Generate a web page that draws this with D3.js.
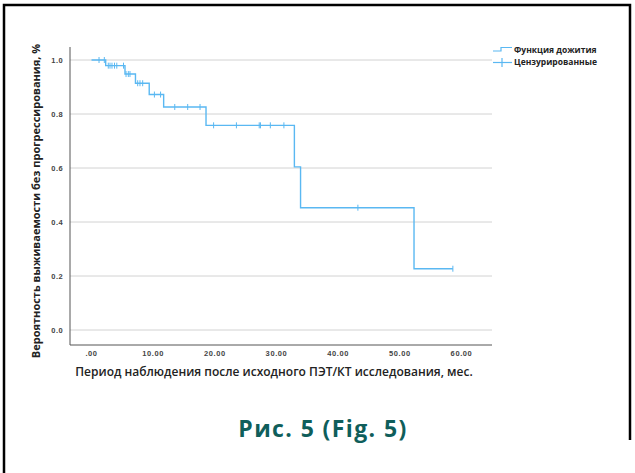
<!DOCTYPE html>
<html>
<head>
<meta charset="utf-8">
<script src="https://cdn.jsdelivr.net/npm/d3@7"></script>
<style>
  html, body { margin: 0; padding: 0; background: #fff; }
  svg { display: block; }
</style>
</head>
<body>
<div id="chart"></div>
<script>
// Kaplan-Meier steps: time (months) where survival drops, and new value
const stepTimes = [0, 2.3, 5.43, 7.13, 9.36, 11.7, 18.57, 32.9, 33.9, 52.3];
const stepValues = [1.0, 0.979, 0.948, 0.914, 0.872, 0.826, 0.758, 0.604, 0.453, 0.227];
const endTime = 58.6;
// censored observations
const censorTimes = [1.22, 2.08, 2.72, 3.0, 3.32, 3.73, 4.1, 5.19, 5.6, 5.97, 6.24,
  7.49, 7.86, 8.3, 10.2, 11.2, 13.5, 15.6, 17.6, 19.8, 23.5, 27.2, 27.4, 29.0, 31.2, 43.2, 58.6];
const xTicks = [0, 10, 20, 30, 40, 50, 60];
const yTicks = [0, 0.2, 0.4, 0.6, 0.8, 1.0];
const legendLabels = ["Функция дожития", "Цензурированные"];

const W = 635, H = 473;
const lineColor = "#5ab8f2";

const svg = d3.select("#chart").append("svg")
  .attr("width", W).attr("height", H);

// frame
svg.append("path")
  .attr("d", "M4,473 V5 H630 V440")
  .attr("fill", "none")
  .attr("stroke", "#000")
  .attr("stroke-width", 2.5);

const x = d3.scaleLinear().domain([0, 60]).range([91.5, 461.5]);
const y = d3.scaleLinear().domain([0, 1]).range([330, 60]);
const plotLeft = 70, plotRight = 492, plotTop = 47, plotBottom = 345;

// gridlines
svg.append("g")
  .selectAll("line")
  .data(yTicks)
  .enter()
  .append("line")
  .attr("x1", plotLeft).attr("x2", plotRight)
  .attr("y1", d => y(d)).attr("y2", d => y(d))
  .attr("stroke", "#d2d2d2")
  .attr("stroke-width", 1);

// axes lines
svg.append("line")
  .attr("x1", plotLeft).attr("x2", plotLeft)
  .attr("y1", plotTop).attr("y2", plotBottom)
  .attr("stroke", "#555").attr("stroke-width", 1);
svg.append("line")
  .attr("x1", plotLeft).attr("x2", plotRight)
  .attr("y1", plotBottom).attr("y2", plotBottom)
  .attr("stroke", "#555").attr("stroke-width", 1);

// tick labels
svg.append("g")
  .selectAll("text")
  .data(yTicks)
  .enter()
  .append("text")
  .attr("x", 63)
  .attr("y", d => y(d) + 2.5)
  .attr("text-anchor", "end")
  .attr("font-family", "Liberation Sans, Arial, sans-serif")
  .attr("font-weight", "bold")
  .attr("font-size", 7.5)
  .attr("letter-spacing", 0.4)
  .attr("fill", "#444")
  .text(d => d.toFixed(1));

svg.append("g")
  .selectAll("text")
  .data(xTicks)
  .enter()
  .append("text")
  .attr("x", d => x(d))
  .attr("y", 356)
  .attr("text-anchor", "middle")
  .attr("font-family", "Liberation Sans, Arial, sans-serif")
  .attr("font-weight", "bold")
  .attr("font-size", 7.5)
  .attr("letter-spacing", 0.6)
  .attr("fill", "#444")
  .text(d => d === 0 ? ".00" : d.toFixed(2));

// axis titles
svg.append("text")
  .attr("x", 274)
  .attr("y", 376)
  .attr("text-anchor", "middle")
  .attr("font-family", "Open Sans, sans-serif")
  .attr("font-weight", 600)
  .attr("font-size", 12)
  .attr("fill", "#222")
  .text("Период наблюдения после исходного ПЭТ/КТ исследования, мес.");

svg.append("text")
  .attr("transform", "translate(40,201) rotate(-90)")
  .attr("text-anchor", "middle")
  .attr("font-family", "Open Sans, sans-serif")
  .attr("font-weight", 700)
  .attr("font-size", 11)
  .attr("fill", "#222")
  .text("Вероятность выживаемости без прогрессирования, %");

// survival step line
const pts = stepTimes.map((t, i) => [t, stepValues[i]]);
pts.push([endTime, stepValues[stepValues.length - 1]]);
const line = d3.line()
  .x(d => x(d[0]))
  .y(d => y(d[1]))
  .curve(d3.curveStepAfter);
svg.append("path")
  .datum(pts)
  .attr("d", line)
  .attr("fill", "none")
  .attr("stroke", lineColor)
  .attr("stroke-width", 1.4);

// survival value at time t
function survAt(t) {
  let s = stepValues[0];
  for (let i = 0; i < stepTimes.length; i++) {
    if (stepTimes[i] <= t) s = stepValues[i];
  }
  return s;
}

svg.append("g")
  .selectAll("line")
  .data(censorTimes)
  .enter()
  .append("line")
  .attr("x1", d => x(d)).attr("x2", d => x(d))
  .attr("y1", d => y(survAt(d)) - 3).attr("y2", d => y(survAt(d)) + 3)
  .attr("stroke", lineColor)
  .attr("stroke-width", 1);

// legend
const lg = svg.append("g");
lg.append("path")
  .attr("d", "M493,51 H501 V47.5 H512")
  .attr("fill", "none")
  .attr("stroke", lineColor)
  .attr("stroke-width", 1.2);
lg.append("line")
  .attr("x1", 493).attr("x2", 512).attr("y1", 62.5).attr("y2", 62.5)
  .attr("stroke", lineColor).attr("stroke-width", 1.2);
lg.append("line")
  .attr("x1", 502).attr("x2", 502).attr("y1", 58).attr("y2", 67)
  .attr("stroke", lineColor).attr("stroke-width", 1.2);
lg.selectAll("text")
  .data(legendLabels)
  .enter()
  .append("text")
  .attr("x", 514)
  .attr("y", (d, i) => 52.5 + i * 12.5)
  .attr("font-family", "Open Sans, sans-serif")
  .attr("font-weight", 700)
  .attr("font-size", 8.5)
  .attr("fill", "#222")
  .text(d => d);

// caption
svg.append("text")
  .attr("x", 323)
  .attr("y", 437)
  .attr("text-anchor", "middle")
  .attr("font-family", "Open Sans, sans-serif")
  .attr("font-weight", 700)
  .attr("font-size", 23)
  .attr("letter-spacing", 1.4)
  .attr("fill", "#0f5e5b")
  .text("Рис. 5 (Fig. 5)");
</script>
</body>
</html>
